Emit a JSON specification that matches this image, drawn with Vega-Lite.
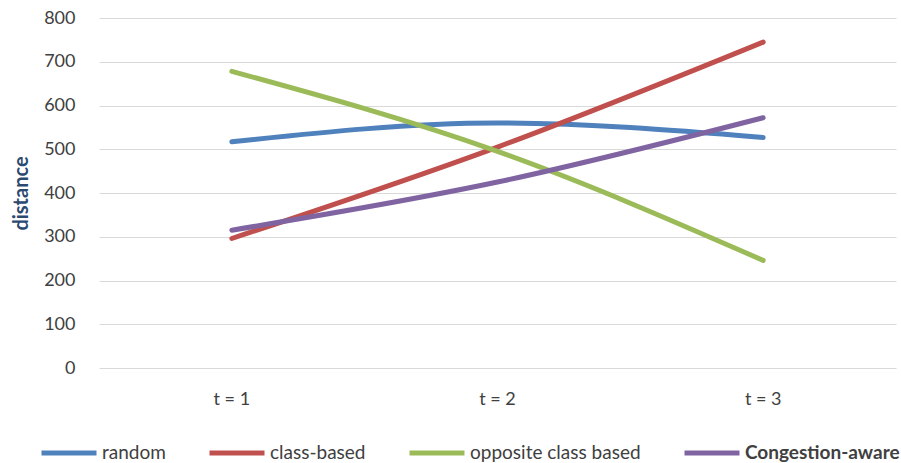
{
  "$schema": "https://vega.github.io/schema/vega-lite/v6.json",
  "width": 797,
  "height": 350,
  "autosize": {"type": "none"},
  "padding": {"left": 99, "top": 18, "right": 5, "bottom": 95},
  "background": "white",
  "config": {
    "font": "Lato",
    "view": {"stroke": null}
  },
  "data": {
    "values": [
      {"series": "random", "t": "t = 1", "distance": 517},
      {"series": "random", "t": "t = 2", "distance": 560},
      {"series": "random", "t": "t = 3", "distance": 527},
      {"series": "class-based", "t": "t = 1", "distance": 296},
      {"series": "class-based", "t": "t = 2", "distance": 505},
      {"series": "class-based", "t": "t = 3", "distance": 745},
      {"series": "opposite class based", "t": "t = 1", "distance": 678},
      {"series": "opposite class based", "t": "t = 2", "distance": 495},
      {"series": "opposite class based", "t": "t = 3", "distance": 246},
      {"series": "Congestion-aware", "t": "t = 1", "distance": 315},
      {"series": "Congestion-aware", "t": "t = 2", "distance": 425},
      {"series": "Congestion-aware", "t": "t = 3", "distance": 572}
    ]
  },
  "mark": {"type": "line", "strokeWidth": 5, "strokeCap": "round", "interpolate": "monotone"},
  "encoding": {
    "x": {
      "field": "t",
      "type": "ordinal",
      "scale": {"type": "band", "paddingInner": 0, "paddingOuter": 0},
      "axis": {
        "title": null,
        "labelAngle": 0,
        "labelFontSize": 18,
        "labelColor": "#404040",
        "labelPadding": 22,
        "domain": false,
        "ticks": false,
        "grid": false
      }
    },
    "y": {
      "field": "distance",
      "type": "quantitative",
      "scale": {"domain": [0, 800], "nice": false},
      "axis": {
        "title": "distance",
        "titleFontSize": 20,
        "titleFontWeight": "bold",
        "titleColor": "#2c4a70",
        "titlePadding": 12,
        "values": [0, 100, 200, 300, 400, 500, 600, 700, 800],
        "labelFontSize": 18,
        "labelColor": "#404040",
        "labelPadding": 24,
        "domain": false,
        "ticks": false,
        "gridColor": "#d9d9d9",
        "gridWidth": 1
      }
    },
    "color": {
      "field": "series",
      "type": "nominal",
      "scale": {
        "domain": ["random", "class-based", "opposite class based", "Congestion-aware"],
        "range": ["#4f81bd", "#c0504d", "#9bbb59", "#8064a2"]
      },
      "legend": {
        "title": null,
        "orient": "none",
        "direction": "horizontal",
        "legendX": -60,
        "legendY": 405,
        "symbolType": "stroke",
        "symbolSize": 3025,
        "symbolStrokeWidth": 5,
        "labelFontSize": 19,
        "labelColor": "#404040",
        "labelOffset": 3,
        "columnPadding": 33,
        "labelLimit": 300,
        "encode": {
          "labels": {
            "update": {
              "fontWeight": {"signal": "datum.value === 'Congestion-aware' ? 'bold' : 'normal'"}
            }
          }
        }
      }
    }
  }
}
